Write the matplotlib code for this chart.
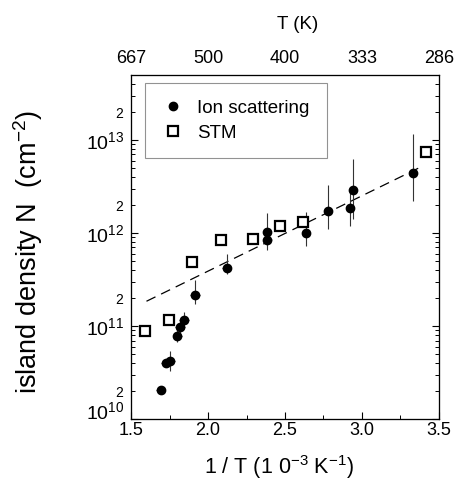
import numpy as np
import matplotlib
matplotlib.use("Agg")
import matplotlib.pyplot as plt
from matplotlib.ticker import FixedLocator, FixedFormatter, LogLocator, FuncFormatter

plt.rcParams['font.family'] = ['Liberation Sans', 'DejaVu Sans']
plt.rcParams['mathtext.fontset'] = 'custom'
plt.rcParams['mathtext.rm'] = 'Liberation Sans'
plt.rcParams['mathtext.it'] = 'Liberation Sans'

# Ion scattering data (1/T in 1e-3 K^-1, density in cm^-2)
ion_x = [1.693, 1.725, 1.753, 1.800, 1.818, 1.844, 1.916, 2.121, 2.381, 2.381, 2.634, 2.777, 2.922, 2.944, 3.333]
ion_N = [2.05e10, 4.0e10, 4.2e10, 7.9e10, 9.8e10, 1.17e11, 2.15e11, 4.2e11, 1.02e12, 8.4e11, 1.0e12, 1.73e12, 1.86e12, 2.9e12, 4.4e12]
ion_lo = [1.9e10, 3.7e10, 3.3e10, 6.7e10, 8.5e10, 9.3e10, 1.73e11, 3.6e11, 8.5e11, 6.6e11, 7.2e11, 1.12e12, 1.2e12, 1.4e12, 2.2e12]
ion_hi = [2.2e10, 4.4e10, 5.4e10, 9.3e10, 1.13e11, 1.41e11, 3.1e11, 5.9e11, 1.64e12, 1.0e12, 1.68e12, 3.3e12, 2.9e12, 6.3e12, 1.15e13]
ion_xerr = [0.03, 0.03, 0.03, 0.03, 0.03, 0.03, 0.03, 0.03, 0, 0, 0, 0, 0, 0, 0]

# STM data
stm_x = [1.591, 1.747, 1.894, 2.082, 2.290, 2.468, 2.619, 3.415]
stm_N = [8.9e10, 1.17e11, 4.9e11, 8.4e11, 8.7e11, 1.18e12, 1.33e12, 7.4e12]

# dashed fit line
fit_x = [1.6, 3.4]
fit_N = [1.85e11, 5.3e12]

top_ticks = [1.5, 2.0, 2.5, 3.0, 3.5]

fig = plt.figure(figsize=(4.6, 4.84), dpi=100)
ax = fig.add_axes([0.285, 0.134, 0.669, 0.711])

ion_N = np.array(ion_N)
yerr = [ion_N - np.array(ion_lo), np.array(ion_hi) - ion_N]
ax.errorbar(ion_x, ion_N, yerr=yerr, xerr=ion_xerr, fmt='none', ecolor='#333333',
            elinewidth=0.8, capsize=0, zorder=2)
ax.plot(ion_x, ion_N, 'o', color='black', markersize=6, zorder=3, label='Ion scattering')
ax.plot(stm_x, stm_N, 's', mfc='white', mec='black', mew=1.6, markersize=7, zorder=3, label='STM')
ax.plot(fit_x, fit_N, color='black', lw=0.9, dashes=(8, 5), zorder=1)

ax.set_yscale('log')
ax.set_xlim(1.5, 3.5)
ax.set_ylim(1e10, 5e13)

ax.set_xticks([1.5, 2.0, 2.5, 3.0, 3.5])
ax.set_xticklabels(['1.5', '2.0', '2.5', '3.0', '3.5'])
ax.xaxis.set_minor_locator(FixedLocator([1.75, 2.25, 2.75, 3.25]))

ax.yaxis.set_major_locator(FixedLocator([1e10, 1e11, 1e12, 1e13]))
ax.yaxis.set_major_formatter(FixedFormatter([r'$\mathregular{10^{10}}$', r'$\mathregular{10^{11}}$',
                                             r'$\mathregular{10^{12}}$', r'$\mathregular{10^{13}}$']))
ax.yaxis.set_minor_locator(LogLocator(base=10, subs=np.arange(2, 10), numticks=20))


def minor_fmt(v, pos):
    m = v / 10 ** np.floor(np.log10(v) + 1e-9)
    return '2' if abs(m - 2) < 0.01 else ''


ax.yaxis.set_minor_formatter(FuncFormatter(minor_fmt))

ax.tick_params(which='both', direction='in', top=True, right=True)
ax.tick_params(which='major', length=5, width=0.8)
ax.tick_params(which='minor', length=3, width=0.7)
ax.tick_params(axis='x', which='major', labelsize=13, pad=2)
ax.tick_params(axis='y', which='major', labelsize=14, pad=5)
ax.tick_params(axis='y', which='minor', labelsize=10, pad=6)

# lift the bottom 10^10 label so it sits on the axis line
ax.yaxis.get_major_ticks()[0].label1.set_va('baseline')

# top temperature axis
ax2 = ax.twiny()
ax2.set_xlim(ax.get_xlim())
ax2.set_xticks(top_ticks)
ax2.set_xticklabels([f"{1000 / t:.0f}" for t in top_ticks])
ax2.tick_params(direction='in', length=0, labelsize=13, pad=6)
ax2.set_xlabel('T (K)', fontsize=13.5)
ax2.xaxis.set_label_coords(0.54, 1.134)

ax.set_xlabel(r'1 / T (1 0$^{-3}$ K$^{-1}$)', fontsize=15.5)
ax.xaxis.set_label_coords(0.48, -0.1)
ax.set_ylabel(r'island density N  (cm$^{-2}$)', fontsize=19.5)
ax.yaxis.set_label_coords(-0.279, 0.486)

for s in ax.spines.values():
    s.set_linewidth(0.9)
    s.set_color('#333333')

leg = ax.legend(loc='upper left', bbox_to_anchor=(0.045, 0.977), borderaxespad=0,
                fontsize=13.5, frameon=True, fancybox=False, handletextpad=0.7,
                borderpad=0.9, labelspacing=0.4, handlelength=1.2)
leg.get_frame().set_edgecolor('#777777')
leg.get_frame().set_linewidth(0.8)

fig.savefig('out.png', dpi=100)
